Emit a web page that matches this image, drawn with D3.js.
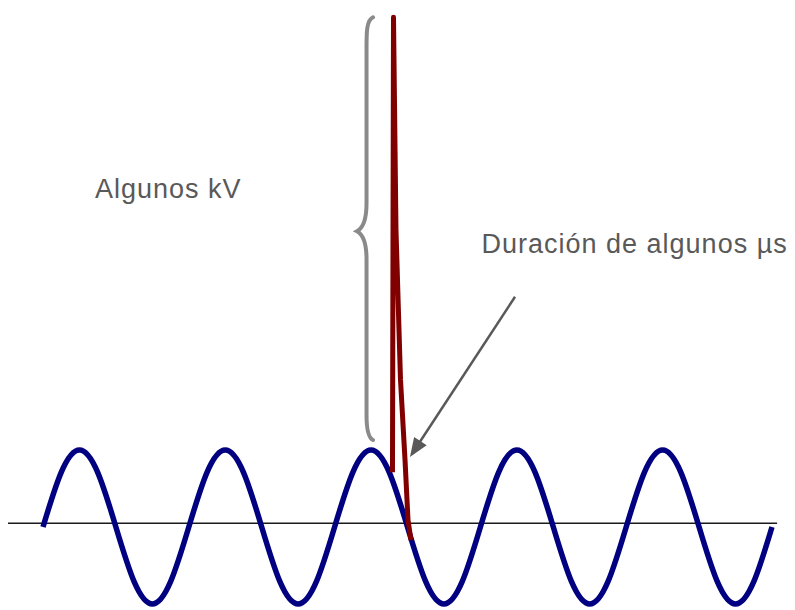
<!DOCTYPE html>
<html>
<head>
<meta charset="utf-8">
<script src="https://cdn.jsdelivr.net/npm/d3@7"></script>
<style>
  html, body { margin: 0; padding: 0; background: #ffffff; }
  svg { display: block; }
</style>
</head>
<body>
<script>
// ---- Data (time in ms, amplitude in per-unit of the mains peak) ----
const waveTime = [0, 2.5, 5, 7.5, 10, 12.5, 15, 17.5, 20, 22.5, 25, 27.5, 30, 32.5, 35, 37.5, 40,
  42.5, 45, 47.5, 50, 52.5, 55, 57.5, 60, 62.5, 65, 67.5, 70, 72.5, 75, 77.5, 80,
  82.5, 85, 87.5, 90, 92.5, 95, 97.5, 100];
const waveValue = [0, 0.71, 1, 0.71, 0, -0.71, -1, -0.71, 0, 0.71, 1, 0.71, 0, -0.71, -1, -0.71, 0,
  0.71, 1, 0.71, 0, -0.71, -1, -0.71, 0, 0.71, 1, 0.71, 0, -0.71, -1, -0.71, 0,
  0.71, 1, 0.71, 0, -0.71, -1, -0.71, 0];

// transient spike (few kV, few µs)
const spikeTime = [47.94, 48.08, 48.42, 49.04, 49.66, 50.07, 50.48];
const spikeValue = [0.71, 6.62, 3.86, 1.91, 0.87, 0.09, -0.17];

// annotations
const labels = ["Algunos kV", "Duración de algunos µs"];
const labelTime = [7.13, 60.15];
const labelValue = [4.27, 3.56];

const axisTime = [-4.8, 100.7];
const axisLevel = 0.05;

const braceTime = { line: 44.38, tip: 43.07, end: 45.27 };
const braceValue = { top: 6.62, mid: 3.84, bottom: 1.13 };

const arrowFrom = [64.75, 2.99];
const arrowTo = [50.34, 0.91];

// ---- Layout ----
const W = 795, H = 610;
const svg = d3.select("body").append("svg").attr("width", W).attr("height", H);

const x = d3.scaleLinear().domain([0, 100]).range([43, 772]);
const y = d3.scaleLinear().domain([-1, 1]).range([604, 450]);

// axis line
svg.append("line")
  .attr("x1", x(axisTime[0])).attr("x2", x(axisTime[1]))
  .attr("y1", y(axisLevel)).attr("y2", y(axisLevel))
  .attr("stroke", "#1a1a1a").attr("stroke-width", 1.5);

// sine wave
const wavePts = waveTime.map((t, i) => [t, waveValue[i]]);
svg.append("path")
  .datum(wavePts)
  .attr("d", d3.line().x(d => x(d[0])).y(d => y(d[1])).curve(d3.curveNatural))
  .attr("fill", "none")
  .attr("stroke", "#000080")
  .attr("stroke-width", 5.5);

// brace
const bx = x(braceTime.line), bt = x(braceTime.tip), be = x(braceTime.end);
const yTop = y(braceValue.top), yMid = y(braceValue.mid), yBot = y(braceValue.bottom);
const bp = d3.path();
bp.moveTo(be, yTop);
bp.bezierCurveTo(bx, yTop + 3, bx, yTop + 15, bx, yTop + 30);
bp.lineTo(bx, yMid - 28);
bp.bezierCurveTo(bx, yMid - 14, bx - 2, yMid - 4, bt, yMid);
bp.bezierCurveTo(bx - 2, yMid + 4, bx, yMid + 14, bx, yMid + 28);
bp.lineTo(bx, yBot - 25);
bp.bezierCurveTo(bx, yBot - 10, bx + 2, yBot - 2, be, yBot);
svg.append("path")
  .attr("d", bp.toString())
  .attr("fill", "none")
  .attr("stroke", "#8a8a8a")
  .attr("stroke-width", 4)
  .attr("stroke-linecap", "round");

// spike
const spikePts = spikeTime.map((t, i) => [t, spikeValue[i]]);
svg.append("path")
  .datum(spikePts)
  .attr("d", d3.line().x(d => x(d[0])).y(d => y(d[1])).curve(d3.curveLinear))
  .attr("fill", "none")
  .attr("stroke", "#800000")
  .attr("stroke-width", 5)
  .attr("stroke-linejoin", "round")
  .attr("stroke-linecap", "butt");

// arrow
const ax1 = x(arrowFrom[0]), ay1 = y(arrowFrom[1]);
const ax2 = x(arrowTo[0]), ay2 = y(arrowTo[1]);
const ang = Math.atan2(ay2 - ay1, ax2 - ax1);
const headLen = 19, headHalf = 7.5;
const bxA = ax2 - headLen * Math.cos(ang), byA = ay2 - headLen * Math.sin(ang);
svg.append("line")
  .attr("x1", ax1).attr("y1", ay1)
  .attr("x2", bxA + 2 * Math.cos(ang)).attr("y2", byA + 2 * Math.sin(ang))
  .attr("stroke", "#595959").attr("stroke-width", 2.5);
svg.append("polygon")
  .attr("points", [
    [ax2, ay2],
    [bxA + headHalf * Math.sin(ang), byA - headHalf * Math.cos(ang)],
    [bxA - headHalf * Math.sin(ang), byA + headHalf * Math.cos(ang)]
  ].map(p => p.join(",")).join(" "))
  .attr("fill", "#595959");

// labels
svg.selectAll("text.lbl")
  .data(labels)
  .enter().append("text")
  .attr("class", "lbl")
  .attr("x", (d, i) => x(labelTime[i]))
  .attr("y", (d, i) => y(labelValue[i]))
  .attr("font-family", "'Liberation Sans', Arial, Helvetica, sans-serif")
  .attr("font-size", 27)
  .attr("letter-spacing", 1)
  .attr("fill", "#595959")
  .text(d => d);
</script>
</body>
</html>
